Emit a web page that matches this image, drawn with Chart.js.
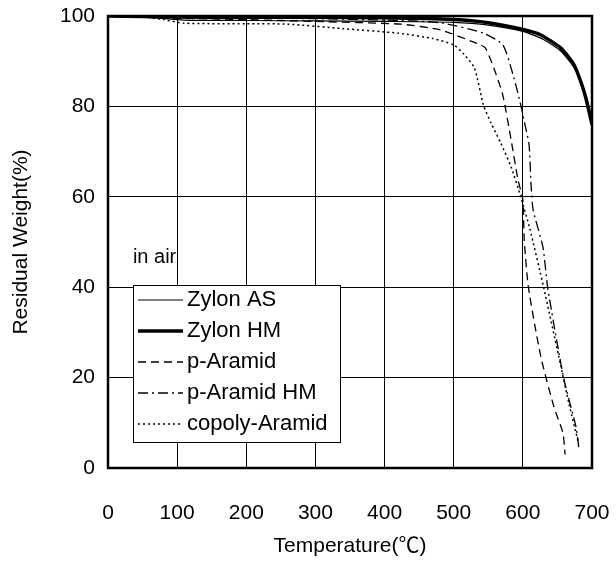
<!DOCTYPE html>
<html>
<head>
<meta charset="utf-8">
<script src="https://cdn.jsdelivr.net/npm/chart.js@4.4.0/dist/chart.umd.min.js"></script>
<style>
  body { margin: 0; background: #fff; }
  #wrap { width: 616px; height: 562px; }
</style>
</head>
<body>
<div id="wrap"><canvas id="tga"></canvas></div>
<script>
// temperatures (°C) and residual weight (%)
const zylonAsT = [0, 60, 110, 200, 300, 400, 500, 550, 600, 630, 655, 675, 690, 700];
const zylonAsW = [100, 99.7, 99.1, 99.0, 98.9, 98.8, 98.6, 98.0, 96.6, 94.8, 92.2, 88.4, 83.0, 77.5];

const zylonHmT = [0, 100, 200, 300, 400, 500, 550, 600, 626, 655, 674, 684, 691, 700];
const zylonHmW = [100, 99.8, 99.7, 99.7, 99.6, 99.2, 98.5, 97.0, 95.8, 92.9, 89.2, 85.4, 81.9, 76.0];

const pAramidT = [0, 100, 200, 300, 423, 481, 539, 546, 558, 571, 583, 593, 600, 602, 608, 626, 645, 658, 661];
const pAramidW = [100, 99.5, 99.2, 98.8, 98.2, 96.9, 93.6, 92.9, 88.5, 82.5, 72.6, 63.7, 59.3, 50.4, 40, 24.6, 13.5, 7.7, 3];

const pAramidHmT = [0, 100, 200, 300, 400, 481, 543, 571, 586, 597, 603, 609, 612, 615, 629, 636, 659, 677, 681];
const pAramidHmW = [100, 99.8, 99.6, 99.4, 99.1, 98.5, 96.2, 93.6, 86.9, 80.3, 76, 71.5, 62.2, 57, 48.9, 39.8, 19.9, 9, 4.4];

const copolyT = [0, 50, 80, 110, 200, 260, 340, 420, 470, 500, 515, 530, 543, 554, 568, 583, 596, 610, 630, 652, 667, 680];
const copolyW = [100, 99.8, 99.2, 98.4, 98.3, 98.2, 97.2, 96.2, 95, 93.6, 91.5, 88.5, 80.3, 76.3, 71.9, 66.6, 60.5, 53, 40, 24.6, 14, 5.8];

const seriesNames = ["Zylon AS", "Zylon HM", "p-Aramid", "p-Aramid HM", "copoly-Aramid"];
const xTicks = [0, 100, 200, 300, 400, 500, 600, 700];
const yTicks = [0, 20, 40, 60, 80, 100];

const FONT = 'Arial, "Liberation Sans", "Noto Sans CJK JP", sans-serif';

function pts(t, w) {
  return t.map((v, i) => ({ x: v, y: w[i] }));
}

const styles = [
  { borderWidth: 1.2, borderDash: [] },
  { borderWidth: 3.5, borderDash: [] },
  { borderWidth: 1.3, borderDash: [8, 5] },
  { borderWidth: 1.3, borderDash: [10, 4, 2, 4] },
  { borderWidth: 1.5, borderDash: [2, 3] }
];

const allData = [
  pts(zylonAsT, zylonAsW),
  pts(zylonHmT, zylonHmW),
  pts(pAramidT, pAramidW),
  pts(pAramidHmT, pAramidHmW),
  pts(copolyT, copolyW)
];

const datasets = allData.map((d, i) => ({
  label: seriesNames[i],
  data: d,
  borderColor: "#000",
  borderWidth: styles[i].borderWidth,
  borderDash: styles[i].borderDash,
  pointRadius: 0,
  fill: false,
  tension: 0.2
}));

// frame, "in air" note and the boxed legend
const extras = {
  id: "extras",
  afterDatasetsDraw(chart) {
    const ctx = chart.ctx;
    const a = chart.chartArea;
    const xs = chart.scales.x, ys = chart.scales.y;
    ctx.save();
    ctx.strokeStyle = "#000";
    ctx.lineWidth = 2.5;
    ctx.setLineDash([]);
    ctx.strokeRect(a.left, a.top, a.right - a.left, a.bottom - a.top);

    ctx.fillStyle = "#000";
    ctx.font = "20px " + FONT;
    ctx.textBaseline = "middle";
    ctx.textAlign = "left";
    ctx.fillText("in air", xs.getPixelForValue(36), ys.getPixelForValue(46.5));

    const bx = a.left + 25, by = a.top + 269, bw = 207, bh = 157;
    ctx.fillStyle = "#fff";
    ctx.fillRect(bx, by, bw, bh);
    ctx.lineWidth = 1;
    ctx.strokeStyle = "#000";
    ctx.strokeRect(bx + 0.5, by + 0.5, bw, bh);

    seriesNames.forEach((name, i) => {
      const cy = by + 15 + i * 31;
      ctx.beginPath();
      ctx.lineWidth = styles[i].borderWidth;
      ctx.setLineDash(styles[i].borderDash);
      ctx.moveTo(bx + 5, cy);
      ctx.lineTo(bx + 50, cy);
      ctx.stroke();
      ctx.setLineDash([]);
      ctx.fillStyle = "#000";
      ctx.font = "22px " + FONT;
      ctx.fillText(name, bx + 54, cy);
    });
    ctx.restore();
  }
};

new Chart(document.getElementById("tga"), {
  type: "line",
  data: { datasets },
  options: {
    responsive: true,
    maintainAspectRatio: false,
    animation: false,
    layout: { padding: { top: 16, right: 24, left: 0, bottom: 0 } },
    plugins: { legend: { display: false }, tooltip: { enabled: false } },
    scales: {
      x: {
        type: "linear",
        min: 0,
        max: 700,
        afterFit(s) { s.height = 94; s.paddingLeft = 0; s.paddingRight = 0; },
        afterBuildTicks(s) { s.ticks = xTicks.map(v => ({ value: v })); },
        grid: { color: "#000", lineWidth: 1, drawTicks: false },
        border: { display: false },
        ticks: { color: "#000", font: { size: 21, family: FONT }, padding: 33 },
        title: { display: true, text: "Temperature(℃)", color: "#000", font: { size: 21, family: FONT }, padding: { top: 0, bottom: 3 } }
      },
      y: {
        min: 0,
        max: 100,
        afterFit(s) { s.width = 108; s.paddingTop = 0; s.paddingBottom = 0; },
        afterBuildTicks(s) { s.ticks = yTicks.map(v => ({ value: v })); },
        grid: { color: "#000", lineWidth: 1, drawTicks: false },
        border: { display: false },
        ticks: { color: "#000", font: { size: 21, family: FONT }, padding: 13 },
        title: { display: true, text: "Residual Weight(%)", color: "#000", font: { size: 21, family: FONT }, padding: { top: 9, bottom: 0 } }
      }
    }
  },
  plugins: [extras]
});
</script>
</body>
</html>
